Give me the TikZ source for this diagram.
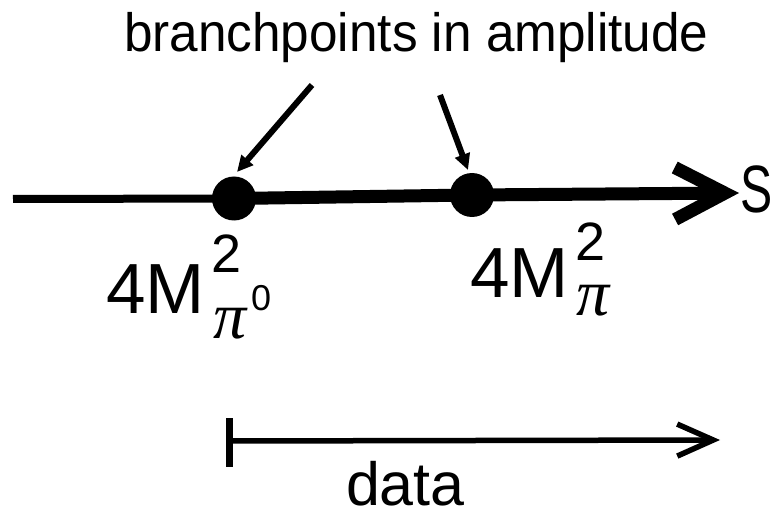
\documentclass[tikz,border=0pt]{standalone}
\usepackage{fontspec}
\setmainfont{Liberation Sans}
\newfontfamily\grk{Liberation Serif}
\usetikzlibrary{arrows.meta}
\tikzset{
  txt/.style={inner sep=0pt, outer sep=0pt, anchor=base west},
  bpdot/.style={circle, fill=black, inner sep=0pt, minimum size=44pt},
  pointer/.style={line width=6pt, -{Triangle[length=16pt,width=15pt]}},
}
\begin{document}
\begin{tikzpicture}[x=1pt,y=-1pt]
\useasboundingbox (0,0) rectangle (777,516);
% title
\node[txt] (title) at (124,52) {\fontsize{54}{60}\selectfont\scalebox{0.95}[1]{branchpoints in amplitude}};
% axis
\coordinate (L) at (13,199);
\node[bpdot] (d1) at (234,198.5) {};
\node[bpdot] (d2) at (472,195) {};
\coordinate (E) at (739,193);
\draw[line width=8pt] (L) -- (d1.center);
\draw[line width=13pt, -{Straight Barb[length=50pt,width=52pt]}] (d1.center) -- (d2.center) -- (E);
\node[txt] (S) at (740,213) {\fontsize{67}{70}\selectfont\scalebox{0.72}[1]{S}};
% pointers
\coordinate (p1) at (312,85);
\coordinate (p2) at (440,95);
\coordinate (t1) at (237,172);
\coordinate (t2) at (468,170);
\draw[pointer] (p1) -- (t1);
\draw[pointer] (p2) -- (t2);
% labels
\node[txt] (m1) at (106,313) {\fontsize{71}{75}\selectfont 4M};
\node[txt, text depth=0pt] (m1s) at (211,272) {\fontsize{54}{60}\selectfont 2};
\node[txt, text height=30pt] (m1p) at (213,338) {\fontsize{66}{66}\selectfont\grk\itshape π};
\node[txt] (m1z) at (251,310) {\fontsize{36}{40}\selectfont 0};
\node[txt] (m2) at (470,297) {\fontsize{71}{75}\selectfont 4M};
\node[txt, text depth=0pt] (m2s) at (575,260) {\fontsize{54}{60}\selectfont 2};
\node[txt, text height=30pt] (m2p) at (576,315) {\fontsize{66}{66}\selectfont\grk\itshape π};
% data arrow
\coordinate (b1) at (229.5,418);
\coordinate (b2) at (229.5,467);
\coordinate (ds) at (229.5,441);
\coordinate (de) at (720,440);
\draw[line width=7pt] (b1) -- (b2);
\draw[line width=5.5pt, -{Straight Barb[length=36pt,width=32pt]}] (ds) -- (de);
\node[txt, text depth=0pt] (data) at (346,505) {\fontsize{61}{65}\selectfont data};
\end{tikzpicture}
\end{document}
